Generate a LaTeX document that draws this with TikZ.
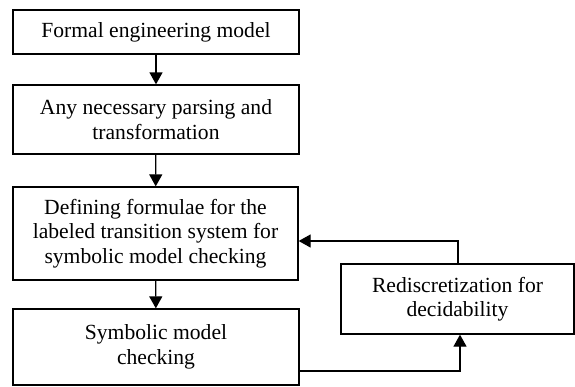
\documentclass[tikz,border=0pt]{standalone}
\usepackage{fontspec}
\setmainfont{Liberation Serif}
\usetikzlibrary{arrows.meta,calc}
\begin{document}
\begin{tikzpicture}[x=1pt,y=-1pt,
  stage/.style={draw,line width=1.3pt,align=center,inner sep=0pt,
    font=\fontsize{21.6}{24.5}\selectfont},
  flow/.style={line width=1.3pt,-{Triangle[length=12pt,width=13pt]}}]
\useasboundingbox (0,0) rectangle (575,386);
\node[stage,minimum width=286pt,minimum height=44pt] (formal) at (156,32) {Formal engineering model};
\node[stage,minimum width=286pt,minimum height=69pt] (parse) at (156,119.5) {Any necessary parsing and\\transformation};
\node[stage,minimum width=285pt,minimum height=93pt] (define) at (155.5,233.5) {Defining formulae for the\\labeled transition system for\\symbolic model checking};
\node[stage,minimum width=286pt,minimum height=76pt] (check) at (156,347) {Symbolic model\\checking};
\node[stage,minimum width=233pt,minimum height=70pt] (redisc) at (457.5,299) {Rediscretization for\\decidability};
\draw[flow] (formal) -- (parse);
\draw[flow] (parse) -- (define);
\draw[flow] (define) -- (check);
\draw[flow] (check.east |- 0,371) -| (460,0 |- redisc.south);
\draw[flow] (458,0 |- redisc.north) |- (define.east |- 0,241);
\end{tikzpicture}
\end{document}
